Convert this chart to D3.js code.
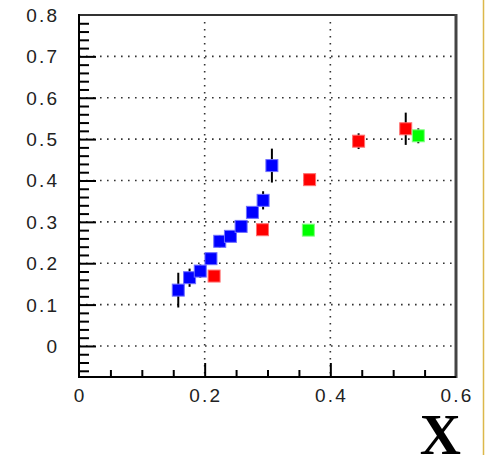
<!DOCTYPE html>
<html>
<head>
<meta charset="utf-8">
<script src="https://cdn.jsdelivr.net/npm/d3@7"></script>
<style>
html,body{margin:0;padding:0;background:#fff;}
svg{display:block;}
</style>
</head>
<body>
<svg id="chart" width="485" height="455"></svg>
<script>
// ---- data ----
const blueX   = [0.158, 0.176, 0.193, 0.210, 0.224, 0.241, 0.258, 0.276, 0.293, 0.307];
const blueY   = [0.135, 0.165, 0.181, 0.211, 0.253, 0.265, 0.289, 0.323, 0.352, 0.436];
const blueErr = [0.042, 0.022, 0.016, 0.012, 0.015, 0.010, 0.008, 0.013, 0.022, 0.041];

const redX   = [0.215, 0.292, 0.367, 0.445, 0.520];
const redY   = [0.169, 0.281, 0.402, 0.495, 0.525];
const redErr = [0.000, 0.000, 0.000, 0.019, 0.039];

const greenX   = [0.365, 0.540];
const greenY   = [0.280, 0.508];
const greenErr = [0.000, 0.018];

const xMajorTicks = [0, 0.2, 0.4, 0.6];
const xTickLabels = ["0", "0.2", "0.4", "0.6"];
const yMajorTicks = [0, 0.1, 0.2, 0.3, 0.4, 0.5, 0.6, 0.7, 0.8];
const yTickLabels = ["0", "0.1", "0.2", "0.3", "0.4", "0.5", "0.6", "0.7", "0.8"];
const xGridValues = [0.2, 0.4];
const yGridValues = [0, 0.1, 0.2, 0.3, 0.4, 0.5, 0.6, 0.7];
const xTitle = "X";

// ---- layout ----
const svg = d3.select("#chart");
const L = 79, R = 456, T = 15, B = 377;
const x = d3.scaleLinear().domain([0, 0.6]).range([L, R]);
const y = d3.scaleLinear().domain([-0.075, 0.8]).range([B, T]);

// gold line on the right edge
svg.append("line").attr("x1", 483.5).attr("x2", 483.5).attr("y1", 0).attr("y2", 455)
  .attr("stroke", "#dcb84a").attr("stroke-width", 1.5);

// grid
const grid = svg.append("g").attr("stroke", "#333").attr("stroke-width", 1.6)
  .attr("stroke-dasharray", "1.6 5.4").attr("fill", "none");
grid.selectAll("line.h").data(yGridValues).join("line").attr("class", "h")
  .attr("x1", L).attr("x2", R - 4).attr("y1", d => y(d)).attr("y2", d => y(d));
grid.selectAll("line.v").data(xGridValues).join("line").attr("class", "v")
  .attr("y1", T + 7).attr("y2", B).attr("x1", d => x(d)).attr("x2", d => x(d));

// minor/major ticks (inward)
const yMinor = d3.range(-3, 40).map(i => i * 0.02).filter(v => Math.abs(Math.round(v * 10) - v * 10) > 1e-6);
const xMinor = d3.range(0, 13).map(i => i * 0.05).filter(v => Math.abs(Math.round(v * 5) - v * 5) > 1e-6);

function styleAxis(g) {
  g.select(".domain").remove();
  g.selectAll("text").remove();
  g.selectAll("line").attr("stroke", "#000").attr("stroke-width", 2);
}
svg.append("g").attr("transform", `translate(${L},0)`)
  .call(d3.axisLeft(y).tickValues(yMinor).tickSize(-10).tickFormat("")).call(styleAxis);
svg.append("g").attr("transform", `translate(${L},0)`)
  .call(d3.axisLeft(y).tickValues(yMajorTicks.filter(v => v < 0.8)).tickSize(-17).tickFormat("")).call(styleAxis);
svg.append("g").attr("transform", `translate(0,${B})`)
  .call(d3.axisBottom(x).tickValues(xMinor).tickSize(-7).tickFormat("")).call(styleAxis);
svg.append("g").attr("transform", `translate(0,${B})`)
  .call(d3.axisBottom(x).tickValues(xMajorTicks.slice(1, 3)).tickSize(-14).tickFormat("")).call(styleAxis);

// frame
svg.append("line").attr("x1", L).attr("x2", R).attr("y1", T).attr("y2", T).attr("stroke", "#333").attr("stroke-width", 2);
svg.append("line").attr("x1", R).attr("x2", R).attr("y1", T - 1).attr("y2", B + 1).attr("stroke", "#444").attr("stroke-width", 3);
svg.append("line").attr("x1", L).attr("x2", L).attr("y1", T - 1).attr("y2", B + 1).attr("stroke", "#000").attr("stroke-width", 2);
svg.append("line").attr("x1", L - 1).attr("x2", R).attr("y1", B).attr("y2", B).attr("stroke", "#000").attr("stroke-width", 2);

// tick labels
const font = "'Liberation Sans', Arial, Helvetica, sans-serif";
const ls = 2.2;
svg.append("g").selectAll("text").data(yMajorTicks).join("text")
  .attr("x", 57 + ls).attr("y", d => y(d) + 7)
  .attr("text-anchor", "end")
  .attr("font-family", font).attr("font-size", 19).attr("letter-spacing", ls)
  .attr("fill", "#222")
  .text((d, i) => yTickLabels[i]);
svg.append("g").selectAll("text").data(xMajorTicks).join("text")
  .attr("x", d => x(d) + ls / 2).attr("y", 402)
  .attr("text-anchor", "middle")
  .attr("font-family", font).attr("font-size", 19).attr("letter-spacing", ls)
  .attr("fill", "#222")
  .text((d, i) => xTickLabels[i]);

// axis title
svg.append("text").attr("x", 461).attr("y", 454).attr("text-anchor", "end")
  .attr("font-family", "'Liberation Serif', 'Times New Roman', serif")
  .attr("font-weight", "bold").attr("font-size", 57).attr("fill", "#000")
  .text(xTitle);

// series
function drawSeries(xs, ys, es, fill, halo) {
  const data = xs.map((v, i) => ({ x: v, y: ys[i], e: es[i] }));
  const g = svg.append("g");
  g.selectAll("line").data(data.filter(d => d.e > 0)).join("line")
    .attr("x1", d => x(d.x)).attr("x2", d => x(d.x))
    .attr("y1", d => y(d.y + d.e)).attr("y2", d => y(d.y - d.e))
    .attr("stroke", "#000").attr("stroke-width", 2);
  g.selectAll("rect").data(data).join("rect")
    .attr("x", d => x(d.x) - 6).attr("y", d => y(d.y) - 6)
    .attr("width", 12).attr("height", 12)
    .attr("fill", fill).attr("stroke", halo).attr("stroke-width", 1);
}
drawSeries(blueX, blueY, blueErr, "#0000ff", "#6f6fff");
drawSeries(redX, redY, redErr, "#ff0000", "#ff7070");
drawSeries(greenX, greenY, greenErr, "#00ff00", "#80ff80");
</script>
</body>
</html>
